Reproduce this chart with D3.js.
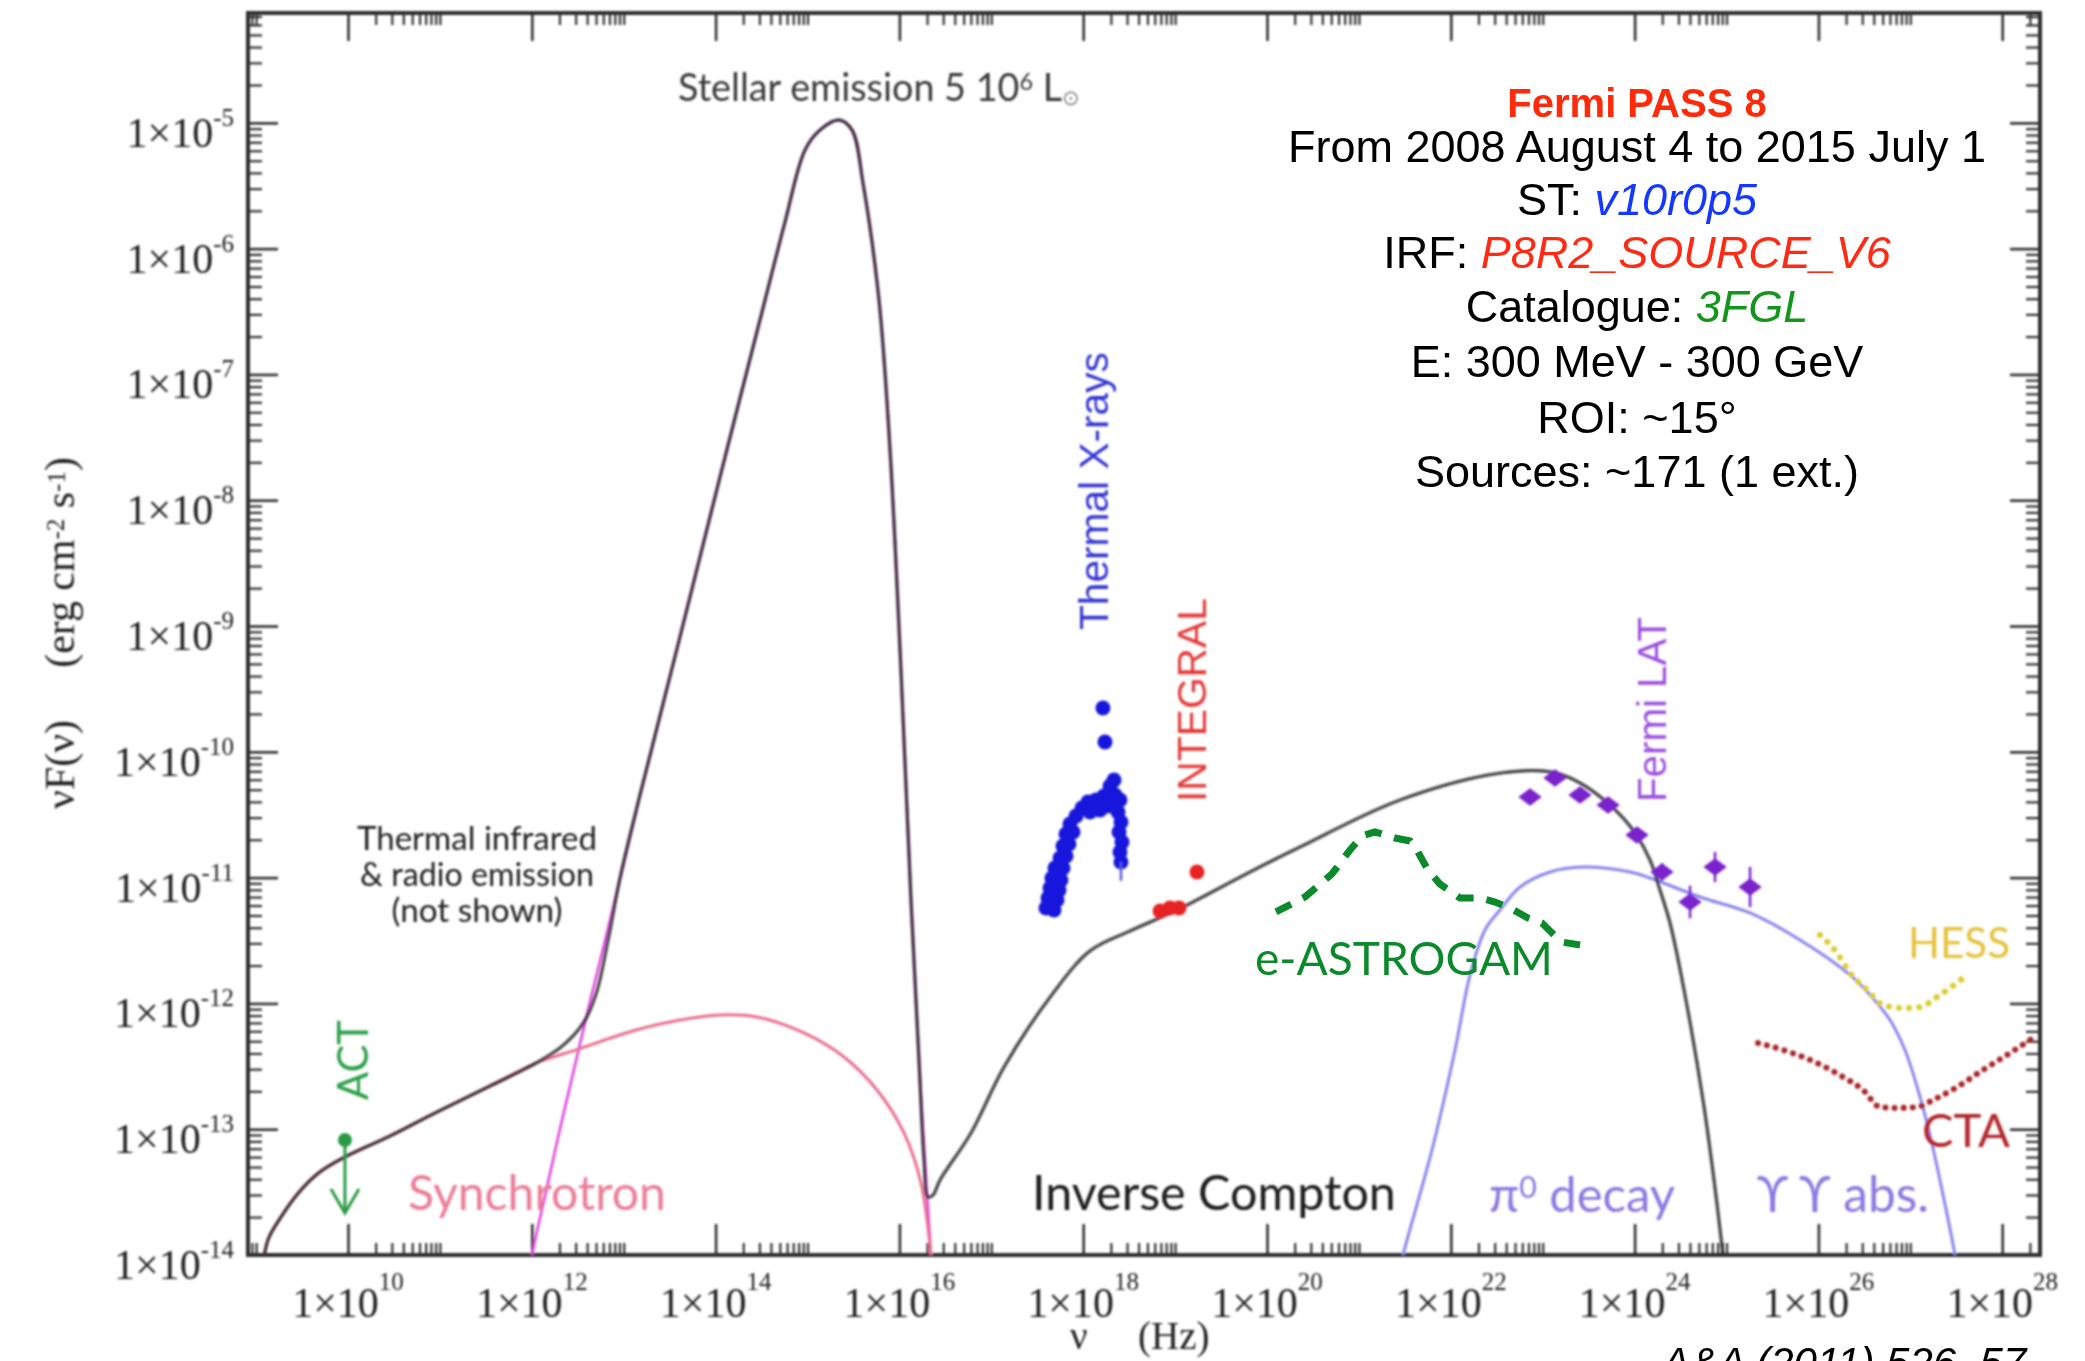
<!DOCTYPE html>
<html>
<head>
<meta charset="utf-8">
<script src="https://cdn.jsdelivr.net/npm/d3@7"></script>
<style>
  html, body { margin: 0; padding: 0; background: #fff; }
  svg { display: block; }
</style>
</head>
<body>
<svg id="chart" width="2085" height="1361"></svg>
<script>
// ---- Data: log10(nu / Hz) and log10(nu F_nu / erg cm^-2 s^-1) ----

// axis ranges (exponents)
const xDomainExp = [8.912, 28.411];
const yDomainExp = [-14, -4.127];
const xTickExponents = [10, 12, 14, 16, 18, 20, 22, 24, 26, 28];
const yTickExponents = [-14, -13, -12, -11, -10, -9, -8, -7, -6, -5];

// model components
const synchrotron = [
  [9.064, -14.159], [9.129, -13.881], [9.271, -13.698], [9.489, -13.483], [9.695, -13.340],
  [9.967, -13.221], [10.457, -13.054], [10.947, -12.871], [11.545, -12.657], [12.046, -12.474],
  [12.481, -12.370], [13.134, -12.211], [13.613, -12.132], [14.048, -12.092], [14.450, -12.108],
  [14.962, -12.235], [15.397, -12.426], [15.756, -12.688], [16.050, -13.030], [16.235, -13.428],
  [16.344, -14.000], [16.376, -14.280]
];
const stellar = [
  [11.959, -14.199], [12.002, -14.000], [12.144, -13.531], [12.307, -12.998], [12.481, -12.457],
  [12.633, -11.988], [12.797, -11.503], [12.960, -11.011], [13.177, -10.351], [13.613, -9.079],
  [14.048, -7.808], [14.538, -6.409], [14.755, -5.789], [14.973, -5.216], [15.136, -5.057],
  [15.343, -4.978], [15.484, -5.057], [15.604, -5.479], [15.778, -6.409], [15.898, -7.601],
  [16.007, -9.191], [16.126, -11.178], [16.224, -12.609], [16.300, -13.507], [16.344, -14.000],
  [16.376, -14.280]
];
const totalModel = [
  [9.064, -14.159], [9.129, -13.881], [9.271, -13.698], [9.489, -13.483], [9.695, -13.340],
  [9.967, -13.221], [10.457, -13.054], [10.947, -12.871], [11.545, -12.657], [12.046, -12.474],
  [12.329, -12.340], [12.557, -12.160], [12.699, -11.925], [12.829, -11.500], [12.960, -11.003],
  [13.177, -10.343], [13.613, -9.087], [14.048, -7.816], [14.538, -6.409], [14.755, -5.789],
  [14.973, -5.216], [15.136, -5.057], [15.343, -4.978], [15.484, -5.057], [15.604, -5.479],
  [15.778, -6.409], [15.898, -7.601], [16.007, -9.191], [16.126, -11.178], [16.213, -12.450],
  [16.268, -13.245], [16.311, -13.539], [16.366, -13.523], [16.442, -13.404], [16.779, -13.030],
  [17.138, -12.506], [17.639, -11.951], [18.074, -11.583], [18.509, -11.424], [19.021, -11.258],
  [19.815, -10.955], [20.359, -10.757], [21.447, -10.383], [22.535, -10.169], [23.112, -10.161],
  [23.406, -10.248], [23.732, -10.423], [23.982, -10.622], [24.167, -10.860], [24.276, -11.099],
  [24.385, -11.361], [24.538, -11.893], [24.744, -12.768], [24.864, -13.404], [24.962, -14.000],
  [25.005, -14.278]
];
const pionDecay = [
  [21.393, -14.278], [21.480, -14.000], [21.795, -13.165], [22.046, -12.370], [22.209, -11.774],
  [22.372, -11.416], [22.535, -11.258], [22.753, -11.075], [23.080, -10.955], [23.439, -10.916],
  [23.950, -10.955], [24.167, -11.003], [24.712, -11.154], [25.256, -11.281], [25.800, -11.496],
  [26.344, -11.774], [26.562, -11.933], [26.779, -12.132], [26.942, -12.370], [27.084, -12.688],
  [27.214, -13.046], [27.345, -13.483], [27.486, -14.000], [27.541, -14.278]
];

// instrument sensitivities
const hessSensitivity = [
  [26.017, -11.456], [26.202, -11.599], [26.344, -11.758], [26.529, -11.893], [26.703, -12.013],
  [26.921, -12.037], [27.106, -12.029], [27.291, -11.949], [27.432, -11.878], [27.574, -11.798]
];
const ctaSensitivity = [
  [25.343, -12.315], [25.615, -12.370], [25.985, -12.474], [26.268, -12.585], [26.485, -12.688],
  [26.670, -12.824], [26.855, -12.831], [27.073, -12.824], [27.247, -12.768], [27.508, -12.665],
  [27.791, -12.529], [28.085, -12.394], [28.335, -12.275]
];
const eAstrogamSensitivity = [
  [20.098, -11.273], [20.413, -11.154], [20.707, -10.971], [20.903, -10.781], [21.034, -10.669],
  [21.175, -10.637], [21.393, -10.685], [21.556, -10.709], [21.643, -10.797], [21.752, -10.940],
  [21.882, -11.051], [22.100, -11.162], [22.318, -11.162], [22.481, -11.194], [22.666, -11.250],
  [22.840, -11.321], [22.992, -11.361], [23.101, -11.440], [23.210, -11.512], [23.406, -11.536]
];

// measurements
const actNu = 9.967, actFlux = -13.086, actArrowEnd = -13.666;
const xrayNu = [
  17.595, 17.682, 17.617, 17.715, 17.639, 17.737, 17.660, 17.758, 17.693, 17.780,
  17.748, 17.813, 17.780, 17.845, 17.813, 17.889, 17.856,
  17.922, 17.987, 18.052, 18.074, 18.139, 18.183, 18.226, 18.270, 18.292, 18.335, 18.346, 18.400,
  18.379, 18.411, 18.390, 18.422, 18.400, 18.411,
  18.215, 18.237
];
const xrayFlux = [
  -11.242, -11.258, -11.162, -11.178, -11.083, -11.099, -11.003, -11.019, -10.924, -10.924,
  -10.844, -10.828, -10.749, -10.733, -10.653, -10.638, -10.574,
  -10.510, -10.447, -10.399, -10.479, -10.383, -10.463, -10.351, -10.431, -10.272, -10.224, -10.343, -10.383,
  -10.479, -10.558, -10.638, -10.717, -10.797, -10.876,
  -9.652, -9.922
];
const integralNu = [18.836, 18.944, 19.042, 19.238];
const integralFlux = [-11.266, -11.242, -11.242, -10.955];
const fermiNu = [22.862, 23.134, 23.406, 23.711, 24.026, 24.298, 24.603, 24.875, 25.256];
const fermiFlux = [-10.359, -10.208, -10.343, -10.423, -10.661, -10.955, -11.194, -10.916, -11.075];
const fermiErr = [0.03, 0.03, 0.03, 0.04, 0.04, 0.07, 0.13, 0.12, 0.16];

// analysis summary
const infoLines = [
  [{ t: "Fermi PASS 8", c: "#ff2a0a", bold: true }],
  [{ t: "From 2008 August 4 to 2015 July 1", c: "#000" }],
  [{ t: "ST: ", c: "#000" }, { t: "v10r0p5", c: "#1438ff", italic: true }],
  [{ t: "IRF: ", c: "#000" }, { t: "P8R2_SOURCE_V6", c: "#ff2a14", italic: true }],
  [{ t: "Catalogue: ", c: "#000" }, { t: "3FGL", c: "#14961e", italic: true }],
  [{ t: "E: 300 MeV - 300 GeV", c: "#000" }],
  [{ t: "ROI: ~15°", c: "#000" }],
  [{ t: "Sources: ~171 (1 ext.)", c: "#000" }]
];

// ---- Drawing ----
const W = 2085, H = 1361;
const plot = { left: 248, right: 2040, top: 13, bottom: 1255 };
const svg = d3.select("#chart");
svg.append("rect").attr("width", W).attr("height", H).attr("fill", "#fff");

const defs = svg.append("defs");
defs.append("filter").attr("id", "soft")
  .attr("x", "-5%").attr("y", "-5%").attr("width", "110%").attr("height", "110%")
  .append("feGaussianBlur").attr("stdDeviation", 1.1);
defs.append("clipPath").attr("id", "plotClip").append("rect")
  .attr("x", plot.left).attr("y", plot.top)
  .attr("width", plot.right - plot.left).attr("height", plot.bottom - plot.top);

const x = d3.scaleLog().domain(xDomainExp.map(e => Math.pow(10, e))).range([plot.left, plot.right]);
const y = d3.scaleLog().domain(yDomainExp.map(e => Math.pow(10, e))).range([plot.bottom, plot.top]);
const px = e => x(Math.pow(10, e));
const py = e => y(Math.pow(10, e));

const xMin = x.domain()[0], xMax = x.domain()[1];
const yMin = y.domain()[0], yMax = y.domain()[1];

// tick positions: majors every second decade on x, minors 2..10 x 10^major
const xMajorVals = xTickExponents.map(e => Math.pow(10, e));
const xMinorVals = [];
[8].concat(xTickExponents).forEach(e => {
  for (let k = 2; k <= 10; k++) {
    const v = k * Math.pow(10, e);
    if (v >= xMin && v <= xMax) xMinorVals.push(v);
  }
});
const yMajorVals = yTickExponents.map(e => Math.pow(10, e));
const yMinorVals = [];
yTickExponents.forEach(e => {
  for (let k = 2; k <= 9; k++) {
    const v = k * Math.pow(10, e);
    if (v >= yMin && v <= yMax) yMinorVals.push(v);
  }
});

const fig = svg.append("g").attr("filter", "url(#soft)");

function styleAxis(g, width) {
  g.select(".domain").remove();
  g.selectAll("text").remove();
  g.selectAll("line").attr("stroke", "#333").attr("stroke-width", width);
}
const axes = fig.append("g");
axes.append("g").attr("transform", `translate(0,${plot.bottom})`)
  .call(d3.axisBottom(x).tickValues(xMajorVals).tickSize(-31).tickFormat(""))
  .call(g => styleAxis(g, 2.6));
axes.append("g").attr("transform", `translate(0,${plot.bottom})`)
  .call(d3.axisBottom(x).tickValues(xMinorVals).tickSize(-12).tickFormat(""))
  .call(g => styleAxis(g, 2.2));
axes.append("g").attr("transform", `translate(0,${plot.top})`)
  .call(d3.axisTop(x).tickValues(xMajorVals).tickSize(-28).tickFormat(""))
  .call(g => styleAxis(g, 2.6));
axes.append("g").attr("transform", `translate(0,${plot.top})`)
  .call(d3.axisTop(x).tickValues(xMinorVals).tickSize(-12).tickFormat(""))
  .call(g => styleAxis(g, 2.2));
axes.append("g").attr("transform", `translate(${plot.left},0)`)
  .call(d3.axisLeft(y).tickValues(yMajorVals).tickSize(-30).tickFormat(""))
  .call(g => styleAxis(g, 2.6));
axes.append("g").attr("transform", `translate(${plot.left},0)`)
  .call(d3.axisLeft(y).tickValues(yMinorVals).tickSize(-14).tickFormat(""))
  .call(g => styleAxis(g, 2.2));
axes.append("g").attr("transform", `translate(${plot.right},0)`)
  .call(d3.axisRight(y).tickValues(yMajorVals).tickSize(-30).tickFormat(""))
  .call(g => styleAxis(g, 2.6));
axes.append("g").attr("transform", `translate(${plot.right},0)`)
  .call(d3.axisRight(y).tickValues(yMinorVals).tickSize(-14).tickFormat(""))
  .call(g => styleAxis(g, 2.2));

// frame
fig.append("rect")
  .attr("x", plot.left).attr("y", plot.top)
  .attr("width", plot.right - plot.left).attr("height", plot.bottom - plot.top)
  .attr("fill", "none").attr("stroke", "#2e2e2e").attr("stroke-width", 4);

// text helpers
const serif = "'Liberation Serif', 'DejaVu Serif', serif";
const sans = "'Liberation Sans', Arial, sans-serif";
const humanist = "Lato, 'Open Sans', sans-serif";
function fitWidth(sel, width) {
  const len = sel.node().getComputedTextLength();
  const fs = parseFloat(sel.attr("font-size"));
  sel.attr("font-size", fs * width / len);
  return sel;
}

// tick labels "1x10^n"
fig.append("g").selectAll("text").data(xTickExponents).join("text")
  .attr("x", e => px(e)).attr("y", 1317)
  .attr("text-anchor", "middle").attr("font-family", serif).attr("font-size", 42).attr("fill", "#222")
  .each(function (e) {
    const t = d3.select(this);
    t.append("tspan").text("1×10");
    t.append("tspan").attr("dy", -27).attr("font-size", 25).text(e);
  });
fig.append("g").selectAll("text").data(yTickExponents).join("text")
  .attr("x", 234).attr("y", e => py(e) + 24)
  .attr("text-anchor", "end").attr("font-family", serif).attr("font-size", 42).attr("fill", "#222")
  .each(function (e) {
    const t = d3.select(this);
    t.append("tspan").text("1×10");
    t.append("tspan").attr("dy", -21).attr("font-size", 25).text(e);
  });

// axis titles
const yTitle = fig.append("text")
  .attr("transform", "translate(74,633) rotate(-90)")
  .attr("text-anchor", "middle").attr("font-family", serif).attr("font-size", 38).attr("fill", "#222")
  .attr("xml:space", "preserve");
yTitle.append("tspan").text("νF(ν)     (erg cm");
yTitle.append("tspan").attr("dy", "-0.38em").attr("font-size", "0.6em").text("-2");
yTitle.append("tspan").attr("dy", "0.23em").text(" s");
yTitle.append("tspan").attr("dy", "-0.38em").attr("font-size", "0.6em").text("-1");
yTitle.append("tspan").attr("dy", "0.23em").text(")");
fitWidth(yTitle, 352);
fig.append("text").attr("x", 1070).attr("y", 1349).attr("font-family", serif).attr("font-size", 39)
  .attr("fill", "#222").text("ν");
fig.append("text").attr("x", 1138).attr("y", 1349).attr("font-family", serif).attr("font-size", 39)
  .attr("fill", "#222").text("(Hz)");

// curves
const line = d3.line().x(d => px(d[0])).y(d => py(d[1])).curve(d3.curveCatmullRom.alpha(0.5));
const curves = fig.append("g").attr("clip-path", "url(#plotClip)");
curves.append("path").datum(stellar).attr("d", line)
  .attr("fill", "none").attr("stroke", "#e046de").attr("stroke-width", 2.6);
curves.append("path").datum(synchrotron).attr("d", line)
  .attr("fill", "none").attr("stroke", "#ec6f90").attr("stroke-width", 3);
curves.append("path").datum(pionDecay).attr("d", line)
  .attr("fill", "none").attr("stroke", "#8a86ee").attr("stroke-width", 3);
curves.append("path").datum(totalModel).attr("d", line)
  .attr("fill", "none").attr("stroke", "#262626").attr("stroke-opacity", 0.82).attr("stroke-width", 3.4);

// sensitivity curves (dotted)
const smoothLine = d3.line().x(d => px(d[0])).y(d => py(d[1])).curve(d3.curveMonotoneX);
curves.append("path").datum(hessSensitivity).attr("d", smoothLine)
  .attr("fill", "none").attr("stroke", "#dccb30").attr("stroke-width", 6)
  .attr("stroke-linecap", "round").attr("stroke-dasharray", "0.1 10");
curves.append("path").datum(ctaSensitivity).attr("d", smoothLine)
  .attr("fill", "none").attr("stroke", "#a8262a").attr("stroke-width", 6)
  .attr("stroke-linecap", "round").attr("stroke-dasharray", "0.1 9");

// ACT upper limit
const act = fig.append("g").attr("stroke", "#2a9a44").attr("fill", "#2a9a44");
act.append("line").attr("x1", px(actNu)).attr("x2", px(actNu))
  .attr("y1", py(actFlux)).attr("y2", py(actArrowEnd)).attr("stroke-width", 3);
act.append("path")
  .attr("transform", `translate(${px(actNu)},${py(actArrowEnd)})`)
  .attr("d", "M-14,-24L0,0L14,-24").attr("fill", "none").attr("stroke-width", 3);
act.append("circle").attr("cx", px(actNu)).attr("cy", py(actFlux)).attr("r", 7).attr("stroke", "none");

// thermal X-rays
fig.append("g").selectAll("circle").data(xrayNu).join("circle")
  .attr("cx", d => px(d)).attr("cy", (d, i) => py(xrayFlux[i]))
  .attr("r", 7.5).attr("fill", "#1414dc");
fig.append("line").attr("stroke", "#5a5ae0").attr("stroke-width", 2.5)
  .attr("x1", px(xrayNu[34])).attr("x2", px(xrayNu[34]))
  .attr("y1", py(xrayFlux[34])).attr("y2", py(xrayFlux[34] - 0.15));

// INTEGRAL
fig.append("g").selectAll("circle").data(integralNu).join("circle")
  .attr("cx", d => px(d)).attr("cy", (d, i) => py(integralFlux[i]))
  .attr("r", 7.5).attr("fill", "#e82222");

// Fermi LAT
const fermi = fig.append("g").attr("fill", "#7a24cc").attr("stroke", "#7a24cc");
fermi.selectAll("line").data(fermiNu).join("line")
  .attr("x1", d => px(d)).attr("x2", d => px(d))
  .attr("y1", (d, i) => py(fermiFlux[i] + fermiErr[i]))
  .attr("y2", (d, i) => py(fermiFlux[i] - fermiErr[i]))
  .attr("stroke-width", 2.5);
fermi.selectAll("path").data(fermiNu).join("path")
  .attr("d", d3.symbol(d3.symbolSquare, 190))
  .attr("stroke", "none")
  .attr("transform", (d, i) => `translate(${px(d)},${py(fermiFlux[i])}) scale(1.2,0.9) rotate(45)`);

function label(parent, opts) {
  const t = parent.append("text")
    .attr("font-family", opts.font).attr("font-size", opts.size).attr("fill", opts.color)
    .attr("text-anchor", opts.anchor || "start");
  if (opts.rotate) t.attr("transform", `translate(${opts.x},${opts.y}) rotate(-90)`);
  else t.attr("x", opts.x).attr("y", opts.y);
  opts.parts.forEach(p => {
    const s = t.append("tspan").text(p.t);
    if (p.sup) s.attr("dy", "-0.45em").attr("font-size", "0.62em");
    if (p.sub) s.attr("dy", "0.2em").attr("font-size", "0.55em");
    if (p.back) s.attr("dy", p.back);
    if (p.color) s.attr("fill", p.color);
  });
  if (opts.width) fitWidth(t, opts.width);
  return t;
}

// annotations of the figure
label(fig, { x: 678, y: 101, font: humanist, size: 34, color: "#3a3a3a", width: 402,
  parts: [{ t: "Stellar emission 5 10" }, { t: "6", sup: true }, { t: " L", back: "0.28em" }, { t: "⊙", sub: true, color: "#888" }] });
label(fig, { x: 477, y: 850, anchor: "middle", font: humanist, size: 30, color: "#222", width: 240,
  parts: [{ t: "Thermal  infrared" }] });
label(fig, { x: 477, y: 886, anchor: "middle", font: humanist, size: 30, color: "#222", width: 234,
  parts: [{ t: "& radio emission" }] });
label(fig, { x: 477, y: 922, anchor: "middle", font: humanist, size: 30, color: "#222", width: 171,
  parts: [{ t: "(not shown)" }] });
label(fig, { x: 408, y: 1210, font: humanist, size: 44, color: "#ec7e99", width: 258,
  parts: [{ t: "Synchrotron" }] });
label(fig, { x: 1032, y: 1210, font: humanist, size: 44, color: "#1c1c1c", width: 364,
  parts: [{ t: "Inverse Compton" }] });
label(fig, { x: 1489, y: 1212, font: humanist, size: 44, color: "#8a7ae2", width: 186,
  parts: [{ t: "π" }, { t: "0", sup: true }, { t: " decay", back: "0.28em" }] });
label(fig, { x: 1757, y: 1212, font: humanist, size: 44, color: "#8a7ae2", width: 172,
  parts: [{ t: "ϒ ϒ abs." }] });
label(fig, { x: 368, y: 1100, rotate: true, font: humanist, size: 44, color: "#2fa04a", width: 80,
  parts: [{ t: "ACT" }] });
label(fig, { x: 1908, y: 958, font: humanist, size: 42, color: "#e6c23c", width: 102,
  parts: [{ t: "HESS" }] });
label(fig, { x: 1922, y: 1147, font: humanist, size: 46, color: "#b3262b", width: 88,
  parts: [{ t: "CTA" }] });
label(fig, { x: 1108, y: 630, rotate: true, font: sans, size: 40, color: "#3434d4", width: 278,
  parts: [{ t: "Thermal X-rays" }] });
label(fig, { x: 1206, y: 802, rotate: true, font: sans, size: 41, color: "#e63b3b", width: 204,
  parts: [{ t: "INTEGRAL" }] });
label(fig, { x: 1666, y: 802, rotate: true, font: sans, size: 40, color: "#9b4fe0", width: 185,
  parts: [{ t: "Fermi LAT" }] });

// e-ASTROGAM sensitivity (sharp overlay)
const overlay = svg.append("g");
overlay.append("path").datum(eAstrogamSensitivity).attr("d", d3.line().x(d => px(d[0])).y(d => py(d[1])))
  .attr("fill", "none").attr("stroke", "#0a8a2a").attr("stroke-width", 7)
  .attr("stroke-dasharray", "17 13");
label(overlay, { x: 1255, y: 975, font: humanist, size: 45, color: "#0a8a2a", width: 298,
  parts: [{ t: "e-ASTROGAM" }] });

// analysis summary block
const infoY = [117, 162, 215, 268, 322, 377, 433, 487];
infoLines.forEach((segs, i) => {
  const t = overlay.append("text")
    .attr("x", 1637).attr("y", infoY[i]).attr("text-anchor", "middle")
    .attr("font-family", sans).attr("font-size", i === 0 ? 40 : 45);
  segs.forEach(s => {
    const sp = t.append("tspan").text(s.t).attr("fill", s.c);
    if (s.bold) sp.attr("font-weight", "bold");
    if (s.italic) sp.attr("font-style", "italic");
  });
});

// citation, running off the lower edge
overlay.append("text").attr("x", 1662).attr("y", 1377)
  .attr("font-family", sans).attr("font-size", 42).attr("font-style", "italic").attr("fill", "#000")
  .text("A&A (2011) 526, 57");
</script>
</body>
</html>
